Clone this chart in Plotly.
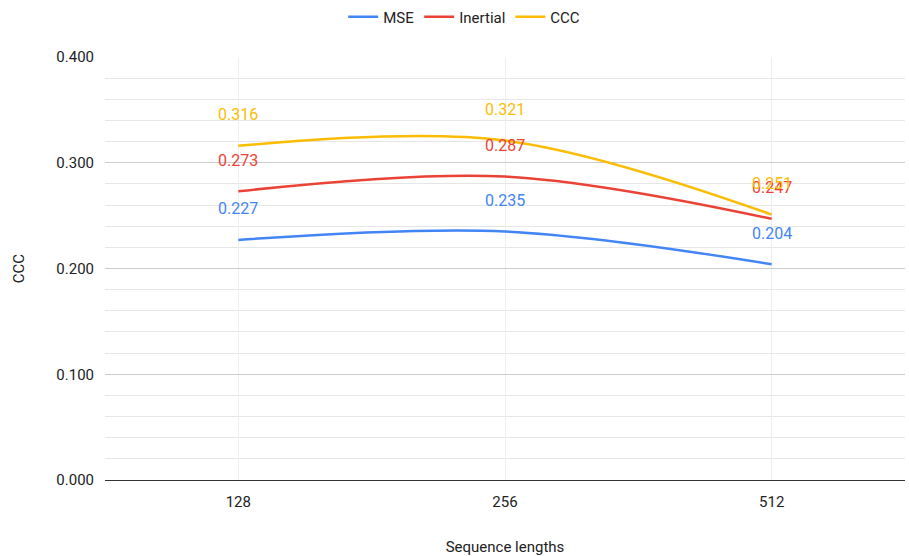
import plotly.graph_objects as go

categories = ["128", "256", "512"]
mse = [0.227, 0.235, 0.204]
inertial = [0.273, 0.287, 0.247]
ccc = [0.316, 0.321, 0.251]

series = [
    ("MSE", mse, "#4285F4"),
    ("Inertial", inertial, "#EA4335"),
    ("CCC", ccc, "#FBBC04"),
]

fig = go.Figure()
for name, vals, color in series:
    fig.add_trace(go.Scatter(
        x=categories, y=vals, name=name, mode="lines",
        line=dict(color=color, width=2.5, shape="spline", smoothing=1.0),
    ))
    # value labels sit above each point (x given as category index)
    for i, v in enumerate(vals):
        fig.add_annotation(
            x=i, y=v, xref="x", yref="y", text=f"{v:.3f}", showarrow=False,
            yshift=31, font=dict(color=color, size=16, family="Roboto"),
        )

fig.update_layout(
    width=909, height=556,
    margin=dict(l=105, r=4, t=57, b=76, autoexpand=False),
    paper_bgcolor="white", plot_bgcolor="white",
    font=dict(family="Roboto", size=15, color="#222222"),
    showlegend=True,
    legend=dict(orientation="h", x=0.449, xanchor="center",
                yref="container", y=1 - 17 / 556, yanchor="middle",
                font=dict(size=15, color="#222222")),
    xaxis=dict(
        type="category", range=[-0.5, 2.5],
        showgrid=True, gridcolor="#eeeeee", gridwidth=1,
        showline=True, linecolor="#333333", linewidth=1,
        ticks="", ticklabelstandoff=8, tickfont=dict(size=15, color="#222222"),
        title=dict(text="Sequence lengths", font=dict(size=15, color="#222222"), standoff=32),
    ),
    yaxis=dict(
        range=[0, 0.4], dtick=0.1, tickformat=".3f",
        showgrid=True, gridcolor="#cccccc", gridwidth=1,
        minor=dict(dtick=0.02, showgrid=True, gridcolor="#e6e6e6", gridwidth=1),
        zeroline=False, ticks="", ticklabelstandoff=10,
        tickfont=dict(size=15, color="#222222"),
        title=dict(text="CCC", font=dict(size=15, color="#222222"), standoff=28),
    ),
)

fig.write_html("out.html")
